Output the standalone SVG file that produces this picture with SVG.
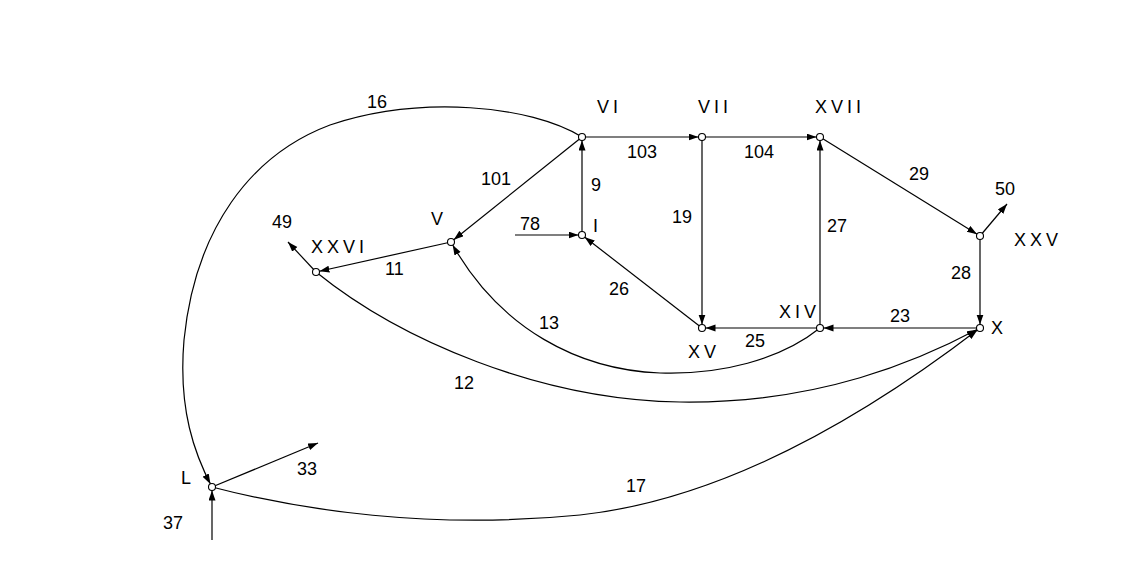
<svg xmlns="http://www.w3.org/2000/svg" width="1140" height="587" viewBox="0 0 1140 587">
<style>
.e{fill:none;stroke:#000;stroke-width:1.2}
.n{fill:#fff;stroke:#000;stroke-width:1.1}
text{font-family:"Liberation Sans",Arial,sans-serif;font-size:18px;fill:#000}
.r{letter-spacing:4px}
</style>
<defs>
<marker id="an" markerUnits="userSpaceOnUse" markerWidth="20" markerHeight="10" refX="13.5" refY="3.5" orient="auto"><path d="M0,0L10,3.5L0,7z" fill="#000"/></marker>
<marker id="af" markerUnits="userSpaceOnUse" markerWidth="20" markerHeight="10" refX="10" refY="3.5" orient="auto"><path d="M0,0L10,3.5L0,7z" fill="#000"/></marker>
</defs>
<rect width="1140" height="587" fill="#fff"/>
<g id="connectors">
<path class="e" d="M582,137L702,137" marker-end="url(#an)"/>
<path class="e" d="M702,137L820,137" marker-end="url(#an)"/>
<path class="e" d="M582,235L582,137" marker-end="url(#an)"/>
<path class="e" d="M515,235L582,235" marker-end="url(#an)"/>
<path class="e" d="M582,137L451,242" marker-end="url(#an)"/>
<path class="e" d="M451,242L316,272" marker-end="url(#an)"/>
<path class="e" d="M316,272L288,242" marker-end="url(#af)"/>
<path class="e" d="M702,137L702,328" marker-end="url(#an)"/>
<path class="e" d="M702,328L582,235" marker-end="url(#an)"/>
<path class="e" d="M820,328L820,137" marker-end="url(#an)"/>
<path class="e" d="M820,137L980,236" marker-end="url(#an)"/>
<path class="e" d="M980,236L1007,204" marker-end="url(#af)"/>
<path class="e" d="M980,236L980,328" marker-end="url(#an)"/>
<path class="e" d="M980,328L820,328" marker-end="url(#an)"/>
<path class="e" d="M820,328L702,328" marker-end="url(#an)"/>
<path class="e" d="M820,328C780,360 720,375 660,373C580,370 500,330 451,242" marker-end="url(#an)"/>
<path class="e" d="M316,272C400,340 540,400 680,402C820,404 920,360 980,328" marker-end="url(#an)"/>
<path class="e" d="M212,487C300,510 430,530 580,515C720,500 860,420 980,328" marker-end="url(#an)"/>
<path class="e" d="M582,137C530,105 420,95 330,125C250,155 195,230 184,340C178,410 195,455 212,487" marker-end="url(#an)"/>
<path class="e" d="M212,487L318,443" marker-end="url(#af)"/>
<path class="e" d="M212,540L212,487" marker-end="url(#an)"/>
</g>
<g id="VI"><circle class="n" cx="582" cy="137" r="3.5"/><text class="r" x="597" y="113">VI</text></g>
<g id="VII"><circle class="n" cx="702" cy="137" r="3.5"/><text class="r" x="698" y="113">VII</text></g>
<g id="XVII"><circle class="n" cx="820" cy="137" r="3.5"/><text class="r" x="815" y="113">XVII</text></g>
<g id="I"><circle class="n" cx="582" cy="235" r="3.5"/><text x="593" y="232">I</text></g>
<g id="V"><circle class="n" cx="451" cy="242" r="3.5"/><text x="431" y="225">V</text></g>
<g id="XXVI"><circle class="n" cx="316" cy="272" r="3.5"/><text class="r" x="311" y="253">XXVI</text></g>
<g id="XXV"><circle class="n" cx="980" cy="236" r="3.5"/><text class="r" x="1014" y="246">XXV</text></g>
<g id="X"><circle class="n" cx="980" cy="328" r="3.5"/><text x="991" y="334">X</text></g>
<g id="XIV"><circle class="n" cx="820" cy="328" r="3.5"/><text class="r" x="779" y="318">XIV</text></g>
<g id="XV"><circle class="n" cx="702" cy="328" r="3.5"/><text class="r" x="688" y="358">XV</text></g>
<g id="L"><circle class="n" cx="212" cy="487" r="3.5"/><text x="181" y="484">L</text></g>
<g id="labels">
<text x="367" y="108">16</text>
<text x="481" y="185">101</text>
<text x="627" y="158">103</text>
<text x="744" y="158">104</text>
<text x="591" y="191">9</text>
<text x="672" y="223">19</text>
<text x="827" y="232">27</text>
<text x="909" y="180">29</text>
<text x="995" y="195">50</text>
<text x="951" y="279">28</text>
<text x="890" y="322">23</text>
<text x="745" y="347">25</text>
<text x="609" y="295">26</text>
<text x="539" y="329">13</text>
<text x="454" y="389">12</text>
<text x="626" y="492">17</text>
<text x="297" y="475">33</text>
<text x="163" y="529">37</text>
<text x="272" y="228">49</text>
<text x="385" y="275">11</text>
<text x="520" y="230">78</text>
</g>
</svg>
